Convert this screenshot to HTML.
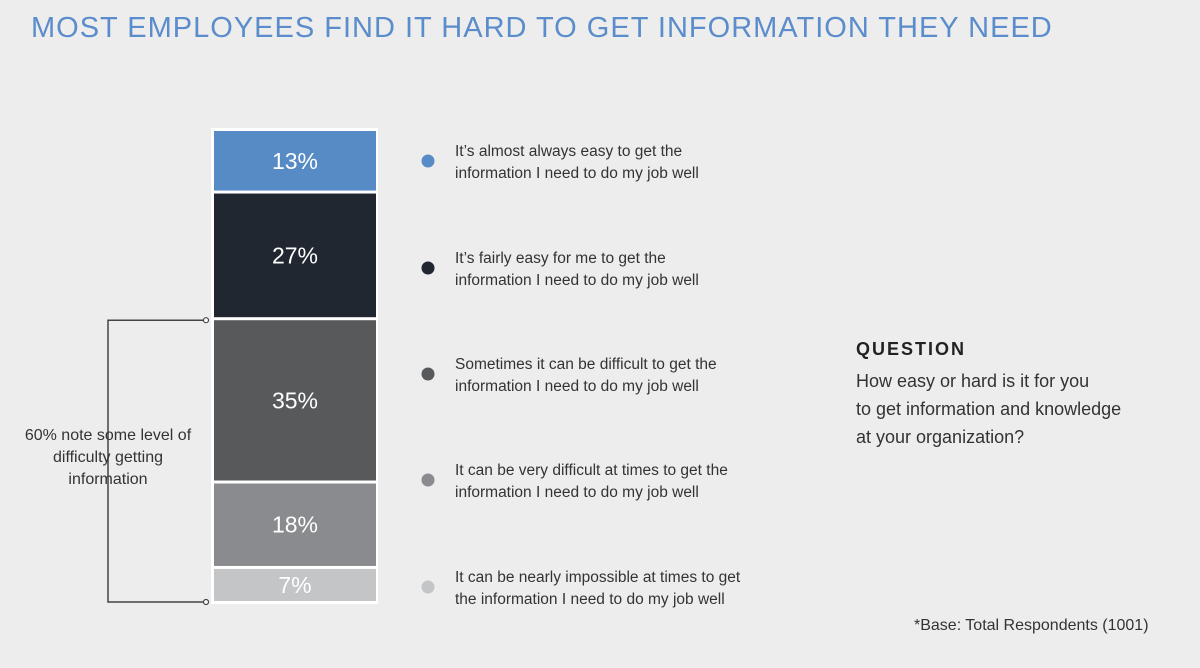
<!DOCTYPE html>
<html><head><meta charset="utf-8"><style>
body{margin:0;width:1200px;height:668px;background:#ededed;font-family:"Liberation Sans",sans-serif;overflow:hidden;position:relative}
.t{position:absolute;white-space:nowrap}
</style></head><body>
<div class="t" style="left:31px;top:12px;font-size:29px;color:#5b8ccb;letter-spacing:1px">MOST EMPLOYEES FIND IT HARD TO GET INFORMATION THEY NEED</div>
<svg id="chart" width="1200" height="668" style="position:absolute;left:0;top:0"></svg>
<div class="t" style="left:20px;top:425px;width:176px;text-align:center;font-size:16px;line-height:22px;color:#333;white-space:normal">60% note some level of difficulty getting information</div>
<div class="t" style="left:856px;top:339px;font-size:18px;font-weight:bold;letter-spacing:2px;color:#222">QUESTION</div>
<div class="t" style="left:856px;top:367px;font-size:18px;line-height:28px;color:#333">How easy or hard is it for you<br>to get information and knowledge<br>at your organization?</div>
<div class="t" style="left:914px;top:617px;font-size:16px;color:#333">*Base: Total Respondents (1001)</div>
<script>
const labels=["It’s almost always easy to get the|information I need to do my job well","It’s fairly easy for me to get the|information I need to do my job well","Sometimes it can be difficult to get the|information I need to do my job well","It can be very difficult at times to get the|information I need to do my job well","It can be nearly impossible at times to get|the information I need to do my job well"];
const values=[13,27,35,18,7];
const colors=["#568bc6","#212731","#58595b","#8a8b8e","#c4c5c7"];
const legendY=[161,268,374,480,587];
const svg=document.getElementById('chart');const NS='http://www.w3.org/2000/svg';
function mk(t,a){const e=document.createElementNS(NS,t);for(const k in a)e.setAttribute(k,a[k]);svg.appendChild(e);return e;}
const top0=131,gap=3,totalH=601-top0-gap*(values.length-1);
const sum=values.reduce((a,b)=>a+b,0);
const yScale=v=>v/sum*totalH;
const bg=mk('rect',{x:211,y:128,width:167,height:476,fill:'#fff'});


let y=top0;
values.forEach((v,i)=>{const h=yScale(v);
const r=mk('rect',{x:214,y:y,width:162,height:h,fill:colors[i]});


const tx=mk('text',{x:295,y:y+h/2+8,'text-anchor':'middle','font-size':23,fill:'#fff','font-family':'Liberation Sans, sans-serif'});
tx.textContent=v+'%';


if(i===2)window.b0=y;if(i===4)window.b1=y+h;
y+=h+gap;});
const p=mk('path',{d:`M205 ${b0} H108 V${b1+1} H205`,fill:'none',stroke:'#444','stroke-width':1.5});


[b0,b1+1].forEach(cy=>{const c=mk('circle',{cx:206,cy:cy,r:2.5,fill:'#fff',stroke:'#444','stroke-width':1.2});

});
labels.forEach((l,i)=>{const c=mk('circle',{cx:428,cy:legendY[i],r:6.5,fill:colors[i]});


l.split('|').forEach((s,j)=>{const t=mk('text',{x:455,y:legendY[i]-5+j*22,'font-size':15.5,fill:'#333','font-family':'Liberation Sans, sans-serif'});
t.textContent=s;

});});
</script>
</body></html>
